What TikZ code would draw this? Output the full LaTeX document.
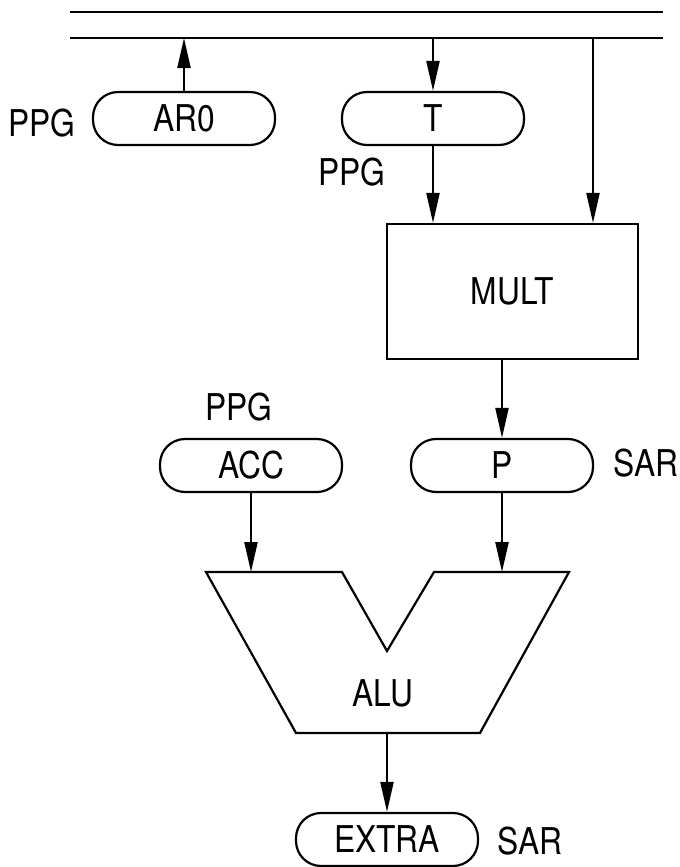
\documentclass[tikz,border=0pt]{standalone}
\usepackage{fontspec}
\setmainfont{TeX Gyre Heros}[FakeStretch=0.86]
\usetikzlibrary{arrows.meta}

\begin{document}
\begin{tikzpicture}[x=0.02cm,y=-0.02cm,line width=1.25pt,
  every node/.style={font=\fontsize{21}{24}\selectfont},
  reg/.style={draw,rounded corners=0.5cm,minimum width=3.64cm,minimum height=1.06cm,inner sep=0pt},
  arr/.style={-{Triangle[length=0.6cm,width=0.26cm]}}]
\useasboundingbox (0,0) rectangle (680,867);
% ---- bus ----
\draw (70,12) -- (663,12);
\draw (70,38) -- (663,38);
\coordinate (busl) at (70,38);
\coordinate (tap) at (593,38);
% ---- registers ----
\node[reg] (ar0) at (184,118.5) {AR0};
\node[reg] (t) at (433,118.5) {T};
\node[reg] (acc) at (251,465.5) {ACC};
\node[reg] (p) at (502,465.5) {P};
\node[reg] (extra) at (387,839.5) {EXTRA};
\node (ppga) at (42,123) {PPG};
\node (ppgt) at (352,172) {PPG};
\node (ppgc) at (239,407) {PPG};
\node (sarp) at (646,463) {SAR};
\node (sare) at (530,841) {SAR};
% ---- multiplier ----
\node[draw,minimum width=5.02cm,minimum height=2.7cm] (mult) at (512.5,291.5) {MULT};
% ---- alu ----
\draw (206,572) -- (342,572) -- (387,651) -- (434,572) -- (569,572) -- (480,733) -- (296,733) -- cycle;
\coordinate (alul) at (251,572);
\coordinate (alur) at (502,572);
\coordinate (alub) at (387,733);
\node (alu) at (383,693) {ALU};
% ---- connections ----
\draw[arr] (ar0.north) -- (ar0.north |- busl);
\draw[arr] (t.north |- busl) -- (t.north);
\draw[arr] (t.south) -- (t.south |- mult.north);
\draw[arr] (tap) -- (tap |- mult.north);
\draw[arr] (p.north |- mult.south) -- (p.north);
\draw[arr] (acc.south) -- (alul);
\draw[arr] (p.south) -- (alur);
\draw[arr] (alub) -- (extra.north);
\end{tikzpicture}
\end{document}
